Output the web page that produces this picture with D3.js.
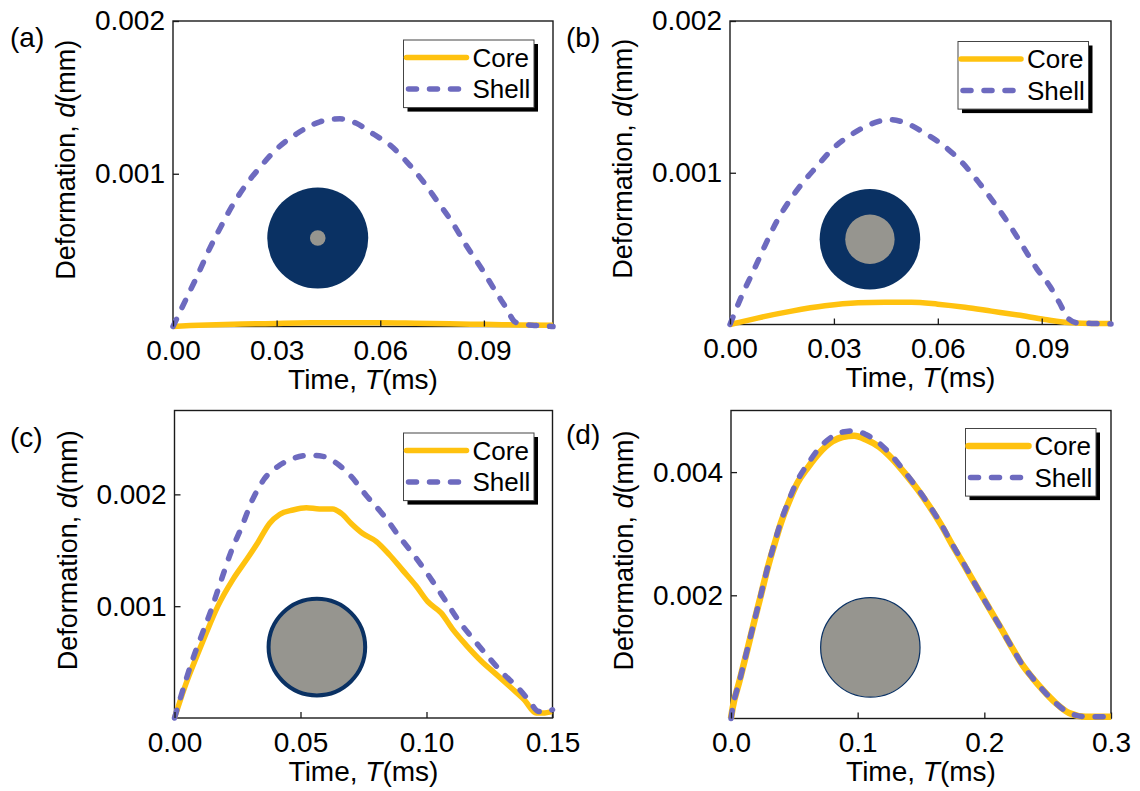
<!DOCTYPE html>
<html><head><meta charset="utf-8">
<script src="https://cdn.jsdelivr.net/npm/d3@7"></script>
<style>
body{margin:0;background:#fff}
svg{display:block}
text{font-family:"Liberation Sans",Arial,Helvetica,sans-serif;fill:#000}
</style>
</head><body>
<svg id="chart" width="1140" height="791"></svg>
<script>
// ---------------- data ----------------
const panelLabels = ["(a)", "(b)", "(c)", "(d)"];
const seriesNames = ["Core", "Shell"];
const xTitle = "Time, ", xTitleVar = "T", xTitleUnit = "(ms)";
const yTitle = "Deformation, ", yTitleVar = "d", yTitleUnit = "(mm)";

// (a)
const aCoreTime = [0, 0.005, 0.01, 0.02, 0.03, 0.04, 0.05, 0.06, 0.07, 0.08, 0.09, 0.1, 0.11];
const aCoreDef  = [0, 0.000006, 0.00001, 0.000016, 0.00002, 0.000024, 0.000025, 0.000025, 0.000022, 0.000018, 0.000014, 0.00001, 0.000008];
const aShellTime = [0, 0.0039, 0.0072, 0.0106, 0.014, 0.0174, 0.0212, 0.0251, 0.0299, 0.0357, 0.0425, 0.0483, 0.0531, 0.058, 0.0627, 0.0676, 0.0724, 0.0762, 0.0806, 0.0849, 0.0893, 0.0931, 0.0965, 0.099, 0.1013, 0.105, 0.11];
const aShellDef  = [0, 0.000185, 0.00034, 0.00051, 0.00066, 0.0008, 0.00093, 0.00104, 0.00116, 0.00126, 0.00134, 0.00136, 0.00133, 0.00126, 0.00119, 0.00108, 0.00095, 0.00083, 0.00069, 0.00053, 0.00038, 0.00024, 0.00012, 0.00003, 0.000015, 0.000007, 0];

// (b)
const bCoreTime = [0, 0.0082, 0.0178, 0.0274, 0.037, 0.0447, 0.0524, 0.06, 0.0678, 0.0755, 0.0832, 0.0909, 0.0986, 0.1044, 0.11];
const bCoreDef  = [0, 0.000044, 0.000088, 0.000123, 0.000143, 0.000147, 0.000147, 0.000134, 0.000114, 0.000088, 0.000062, 0.000033, 0.000011, 0.000007, 0.000007];
const bShellTime = [0, 0.0034, 0.0067, 0.0101, 0.0135, 0.0173, 0.0212, 0.025, 0.0293, 0.0356, 0.0418, 0.0457, 0.0505, 0.0563, 0.0616, 0.0669, 0.0717, 0.076, 0.0803, 0.0847, 0.0885, 0.0924, 0.0952, 0.0976, 0.1005, 0.1044, 0.11];
const bShellDef  = [0, 0.00019, 0.00035, 0.00052, 0.00068, 0.00082, 0.00094, 0.00104, 0.00115, 0.00126, 0.00133, 0.00135, 0.00133, 0.00126, 0.00118, 0.00107, 0.00094, 0.00081, 0.00067, 0.00051, 0.00037, 0.00025, 0.00014, 0.00004, 0.00001, 0.000007, 0.000004];

// (c)
const cCoreTime = [0, 0.0046, 0.0086, 0.0126, 0.0172, 0.0232, 0.0284, 0.0331, 0.0377, 0.0417, 0.047, 0.0523, 0.0575, 0.0628, 0.0662, 0.0701, 0.0747, 0.08, 0.0853, 0.0906, 0.0959, 0.1005, 0.1058, 0.1105, 0.1158, 0.1217, 0.1277, 0.1336, 0.1389, 0.1435, 0.1462, 0.15];
const cCoreDef  = [0, 0.00031, 0.00054, 0.00076, 0.001, 0.00124, 0.00141, 0.00157, 0.00174, 0.00182, 0.00186, 0.00188, 0.00187, 0.00187, 0.00183, 0.00174, 0.00165, 0.00158, 0.00146, 0.00132, 0.00118, 0.00104, 0.00094, 0.00079, 0.00065, 0.00051, 0.00039, 0.00027, 0.00016, 0.000045, 0.000045, 0.00006];
const cShellTime = [0, 0.0033, 0.0073, 0.0106, 0.0146, 0.0185, 0.0225, 0.0265, 0.0311, 0.0357, 0.0417, 0.047, 0.0536, 0.0589, 0.0642, 0.0701, 0.0761, 0.0827, 0.0893, 0.0959, 0.1025, 0.1078, 0.1131, 0.1184, 0.1244, 0.1303, 0.1363, 0.1409, 0.1442, 0.1468, 0.15];
const cShellDef  = [0, 0.00025, 0.00053, 0.00073, 0.00097, 0.00123, 0.00149, 0.0017, 0.00196, 0.00214, 0.00226, 0.00232, 0.00235, 0.00234, 0.00228, 0.00216, 0.00199, 0.00182, 0.00162, 0.00143, 0.00122, 0.00104, 0.00086, 0.00071, 0.00055, 0.0004, 0.00027, 0.00015, 0.00006, 0.000054, 0.000074];

// (d)
const dCoreTime = [0, 0.0013, 0.0066, 0.0132, 0.0184, 0.0237, 0.0289, 0.0342, 0.0395, 0.046, 0.0526, 0.0605, 0.0697, 0.0802, 0.0881, 0.0973, 0.1065, 0.117, 0.1276, 0.1381, 0.1473, 0.1565, 0.1657, 0.1749, 0.1841, 0.1933, 0.2038, 0.213, 0.2222, 0.2301, 0.238, 0.2459, 0.2564, 0.2669, 0.2801, 0.3];
const dCoreDef  = [0, 0.00017, 0.0006, 0.00114, 0.00158, 0.00201, 0.00244, 0.00282, 0.00318, 0.00353, 0.00383, 0.00407, 0.00431, 0.0045, 0.00457, 0.00459, 0.00453, 0.00441, 0.00421, 0.00396, 0.00372, 0.00345, 0.00315, 0.00281, 0.00249, 0.00216, 0.00179, 0.00147, 0.00114, 0.00087, 0.00066, 0.00047, 0.00025, 0.00009, 0.00003, 0.00003];
const dShellTime = [0, 0.0013, 0.0066, 0.0132, 0.0184, 0.0237, 0.0289, 0.0342, 0.0395, 0.046, 0.0526, 0.0605, 0.0697, 0.0802, 0.0881, 0.0973, 0.1065, 0.117, 0.1276, 0.1381, 0.1473, 0.1565, 0.1657, 0.1749, 0.1841, 0.1933, 0.2038, 0.213, 0.2222, 0.2301, 0.238, 0.2459, 0.2564, 0.2669, 0.2801, 0.3];
const dShellDef  = [0, 0.00017, 0.0006, 0.00115, 0.00158, 0.00202, 0.00245, 0.00284, 0.0032, 0.00356, 0.00387, 0.00413, 0.00439, 0.00458, 0.00465, 0.00467, 0.00461, 0.00447, 0.00425, 0.00398, 0.00373, 0.00346, 0.00316, 0.00282, 0.0025, 0.00216, 0.00179, 0.00147, 0.00114, 0.00087, 0.00066, 0.00047, 0.00025, 0.00009, 0.00003, 0.00003];

// axis ticks and labels
const abXTicks = [0, 0.03, 0.06, 0.09];
const abXTickLabels = ["0.00", "0.03", "0.06", "0.09"];
const abYTicks = [0.001, 0.002];
const abYTickLabels = ["0.001", "0.002"];
const cXTicks = [0, 0.05, 0.10, 0.15];
const cXTickLabels = ["0.00", "0.05", "0.10", "0.15"];
const cYTicks = [0.001, 0.002];
const cYTickLabels = ["0.001", "0.002"];
const dXTicks = [0, 0.1, 0.2, 0.3];
const dXTickLabels = ["0.0", "0.1", "0.2", "0.3"];
const dYTicks = [0.002, 0.004];
const dYTickLabels = ["0.002", "0.004"];
const xDomains = [[0, 0.11], [0, 0.11], [0, 0.15], [0, 0.3]];
const yDomains = [[0, 0.002], [0, 0.002], [0, 0.00275], [0, 0.005]];

// cross-section inset centres (data units)
const insetTime = [0.0419, 0.0404, 0.0565, 0.110];
const insetDef  = [0.000579, 0.000562, 0.000634, 0.001154];

// ---------------- style / layout ----------------
const COLORS = {core: "#FFC20F", shell: "#6D6ABF", navy: "#0A3163", gray: "#96958F"};
const FONT_TICK = 28, FONT_TITLE = 28, FONT_YTITLE = 27, FONT_LEG = 26, FONT_LABEL = 28;
const SHELL_DASH = "8,13", SHELL_W = 5.5;

const panels = [
  {label: panelLabels[0], core: [aCoreTime, aCoreDef], shell: [aShellTime, aShellDef],
   xT: abXTicks, xL: abXTickLabels, yT: abYTicks, yL: abYTickLabels,
   box: {x0: 173, x1: 553, y0: 21, y1: 326.5}, lab: {x: 10, y: 47}, leg: {dx: 19, dy: 19},
   inset: {type: "ring", outer: 50.5, inner: 7.8}, coreW: 5.5},
  {label: panelLabels[1], core: [bCoreTime, bCoreDef], shell: [bShellTime, bShellDef],
   xT: abXTicks, xL: abXTickLabels, yT: abYTicks, yL: abYTickLabels,
   box: {x0: 730, x1: 1111, y0: 21, y1: 324.5}, lab: {x: 566, y: 47}, leg: {dx: 22.5, dy: 20.5},
   inset: {type: "ring", outer: 50.3, inner: 24.7}, coreW: 5.5},
  {label: panelLabels[2], core: [cCoreTime, cCoreDef], shell: [cShellTime, cShellDef],
   xT: cXTicks, xL: cXTickLabels, yT: cYTicks, yL: cYTickLabels,
   box: {x0: 174.5, x1: 552.5, y0: 410.5, y1: 718}, lab: {x: 10, y: 447}, leg: {dx: 18.5, dy: 22.5},
   inset: {type: "stroke", r: 48.3, sw: 4}, coreW: 5.5},
  {label: panelLabels[3], core: [dCoreTime, dCoreDef], shell: [dShellTime, dShellDef],
   xT: dXTicks, xL: dXTickLabels, yT: dYTicks, yL: dYTickLabels,
   box: {x0: 731, x1: 1111, y0: 410.5, y1: 718.5}, lab: {x: 566, y: 444}, leg: {dx: 15, dy: 18},
   inset: {type: "stroke", r: 49.7, sw: 1.2}, coreW: 6.5}
];

const svg = d3.select("#chart");

panels.forEach((p, i) => {
  const b = p.box;
  const x = d3.scaleLinear().domain(xDomains[i]).range([b.x0, b.x1]);
  const y = d3.scaleLinear().domain(yDomains[i]).range([b.y1, b.y0]);
  const g = svg.append("g");

  // inset cross-section
  const cx = x(insetTime[i]), cy = y(insetDef[i]);
  if (p.inset.type === "ring") {
    g.append("circle").attr("cx", cx).attr("cy", cy).attr("r", p.inset.outer).attr("fill", COLORS.navy);
    g.append("circle").attr("cx", cx).attr("cy", cy).attr("r", p.inset.inner).attr("fill", COLORS.gray);
  } else {
    g.append("circle").attr("cx", cx).attr("cy", cy).attr("r", p.inset.r)
      .attr("fill", COLORS.gray).attr("stroke", COLORS.navy).attr("stroke-width", p.inset.sw);
  }

  const line = d3.line().x(d => x(d[0])).y(d => y(d[1])).curve(d3.curveMonotoneX);
  const coreData = p.core[0].map((t, k) => [t, p.core[1][k]]);
  const shellData = p.shell[0].map((t, k) => [t, p.shell[1][k]]);

  // frame
  g.append("rect").attr("x", b.x0).attr("y", b.y0).attr("width", b.x1 - b.x0).attr("height", b.y1 - b.y0)
    .attr("fill", "none").attr("stroke", "#1a1a1a").attr("stroke-width", 1.4);

  g.append("path").datum(coreData).attr("d", line).attr("fill", "none")
    .attr("stroke", COLORS.core).attr("stroke-width", p.coreW).attr("stroke-linejoin", "round").attr("stroke-linecap", "butt");
  g.append("path").datum(shellData).attr("d", line).attr("fill", "none")
    .attr("stroke", COLORS.shell).attr("stroke-width", SHELL_W).attr("stroke-dasharray", SHELL_DASH)
    .attr("stroke-linecap", "round").attr("stroke-linejoin", "round");

  // axes
  const xAxis = d3.axisBottom(x).tickValues(p.xT).tickFormat((d, k) => p.xL[k])
    .tickSizeInner(-6).tickSizeOuter(0).tickPadding(14);
  const yAxis = d3.axisLeft(y).tickValues(p.yT).tickFormat((d, k) => p.yL[k])
    .tickSizeInner(-6).tickSizeOuter(0).tickPadding(8);
  const gx = g.append("g").attr("transform", `translate(0,${b.y1})`).call(xAxis);
  const gy = g.append("g").attr("transform", `translate(${b.x0},0)`).call(yAxis);
  [gx, gy].forEach(a => {
    a.select(".domain").remove();
    a.selectAll(".tick line").attr("stroke", "#1a1a1a").attr("stroke-width", 1.3);
    a.selectAll(".tick text").attr("font-size", FONT_TICK)
      .attr("font-family", '"Liberation Sans", Arial, sans-serif').attr("fill", "#000");
  });

  // axis titles
  const xt = g.append("text").attr("x", (b.x0 + b.x1) / 2).attr("y", b.y1 + 62.5)
    .attr("text-anchor", "middle").attr("font-size", FONT_TITLE);
  xt.append("tspan").text(xTitle);
  xt.append("tspan").attr("font-style", "italic").text(xTitleVar);
  xt.append("tspan").text(xTitleUnit);

  const ycx = b.x0 - 98, ycy = (b.y0 + b.y1) / 2 - 14;
  const yt = g.append("text").attr("transform", `translate(${ycx},${ycy}) rotate(-90)`)
    .attr("text-anchor", "middle").attr("font-size", FONT_YTITLE);
  yt.append("tspan").text(yTitle);
  yt.append("tspan").attr("font-style", "italic").text(yTitleVar);
  yt.append("tspan").text(yTitleUnit);

  // panel label
  g.append("text").attr("x", p.lab.x).attr("y", p.lab.y).attr("font-size", FONT_LABEL).text(p.label);

  // legend
  const lw = 130.5, lh = 67.6;
  const lx = b.x1 - p.leg.dx - lw, ly = b.y0 + p.leg.dy;
  const lg = g.append("g").attr("transform", `translate(${lx},${ly})`);
  lg.append("rect").attr("x", 4).attr("y", 4).attr("width", lw).attr("height", lh).attr("fill", "#000");
  lg.append("rect").attr("x", 0).attr("y", 0).attr("width", lw).attr("height", lh)
    .attr("fill", "#fff").attr("stroke", "#444").attr("stroke-width", 1);
  const rows = [{name: seriesNames[0], yy: 17.6, color: COLORS.core, dash: null, w: p.coreW},
                {name: seriesNames[1], yy: 49, color: COLORS.shell, dash: SHELL_DASH, w: SHELL_W}];
  rows.forEach(r => {
    const ln = lg.append("line").attr("x1", 3).attr("x2", 63).attr("y1", r.yy).attr("y2", r.yy)
      .attr("stroke", r.color).attr("stroke-width", r.w).attr("stroke-linecap", "round");
    if (r.dash) ln.attr("stroke-dasharray", r.dash).attr("x1", 5);
    lg.append("text").attr("x", 69).attr("y", r.yy + 9).attr("font-size", FONT_LEG).text(r.name);
  });
});
</script>
</body></html>
